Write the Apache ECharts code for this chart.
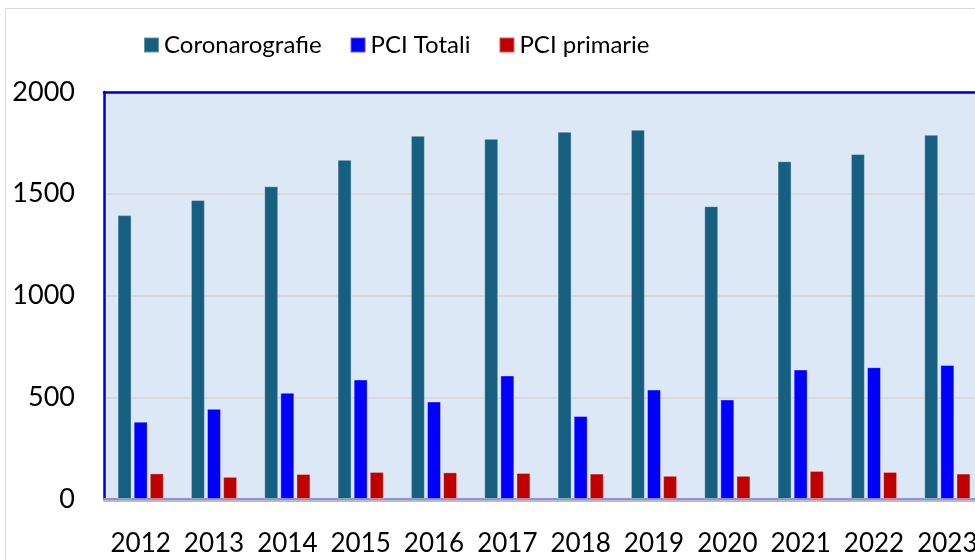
<!DOCTYPE html>
<html>
<head>
<meta charset="utf-8">
<script src="https://cdn.jsdelivr.net/npm/echarts@6/dist/echarts.min.js"></script>
<style>
  html, body { margin: 0; padding: 0; background: #fff; }
  #chart { width: 975px; height: 560px; }
</style>
</head>
<body>
<div id="chart"></div>
<script>
// anni e valori
const years = ['2012', '2013', '2014', '2015', '2016', '2017', '2018', '2019', '2020', '2021', '2022', '2023'];
const coronarografie = [1395, 1469, 1537, 1667, 1785, 1770, 1805, 1815, 1439, 1660, 1695, 1790];
const pciTotali = [380, 443, 522, 587, 479, 607, 408, 538, 489, 636, 648, 659];
const pciPrimarie = [126, 109, 123, 133, 131, 128, 125, 114, 114, 138, 133, 125];
const seriesNames = ['Coronarografie', 'PCI Totali', 'PCI primarie'];
const seriesColors = ['#165F80', '#0000FF', '#C00000'];

const font = 'Lato, "Noto Sans", sans-serif';
const frameBlue = '#0000CC';

function makeBar(name, data, color) {
    return {
        name: name,
        type: 'bar',
        data: data,
        barWidth: 14,
        barGap: '15%',
        itemStyle: {
            color: color,
            borderColor: 'rgba(255,255,255,0.35)',
            borderWidth: 1
        }
    };
}

let chart = echarts.init(document.getElementById('chart'));
chart.setOption({
    animation: false,
    backgroundColor: '#fff',
    textStyle: {fontFamily: font},
    graphic: [{
        type: 'rect',
        shape: {x: 5.5, y: 8.5, width: 1000, height: 600},
        style: {fill: null, stroke: '#D9D9D9', lineWidth: 1},
        silent: true
    }],
    legend: {
        data: seriesNames,
        left: 138,
        top: 28,
        itemWidth: 15,
        itemHeight: 15,
        itemGap: 28,
        icon: 'rect',
        textStyle: {fontSize: 24, color: '#000', fontFamily: font}
    },
    grid: {
        left: 104,
        top: 92,
        width: 880,
        height: 407,
        outerBoundsMode: 'none',
        containLabel: false,
        show: true,
        backgroundColor: '#DCE8F5',
        borderWidth: 0
    },
    xAxis: [{
        type: 'category',
        data: years,
        axisTick: {show: false},
        axisLine: {
            lineStyle: {color: '#8F8FE8', width: 2, shadowColor: '#BBBBBB', shadowOffsetY: 2}
        },
        axisLabel: {interval: 0, margin: 32, fontSize: 26, color: '#000', fontFamily: font}
    }, {
        // bordo superiore del riquadro
        type: 'category',
        data: years,
        position: 'top',
        axisTick: {show: false},
        axisLabel: {show: false},
        axisLine: {lineStyle: {color: frameBlue, width: 2.5}}
    }],
    yAxis: {
        type: 'value',
        min: 0,
        max: 2000,
        interval: 500,
        axisLine: {show: true, lineStyle: {color: frameBlue, width: 2.5}},
        axisTick: {show: false},
        axisLabel: {
            margin: 29,
            fontSize: 27,
            color: '#000',
            fontFamily: font,
            formatter: function (v) { return String(v); }
        },
        splitLine: {lineStyle: {color: '#D9D9D9', width: 2}}
    },
    series: [
        makeBar(seriesNames[0], coronarografie, seriesColors[0]),
        makeBar(seriesNames[1], pciTotali, seriesColors[1]),
        makeBar(seriesNames[2], pciPrimarie, seriesColors[2])
    ]
});
</script>
</body>
</html>
